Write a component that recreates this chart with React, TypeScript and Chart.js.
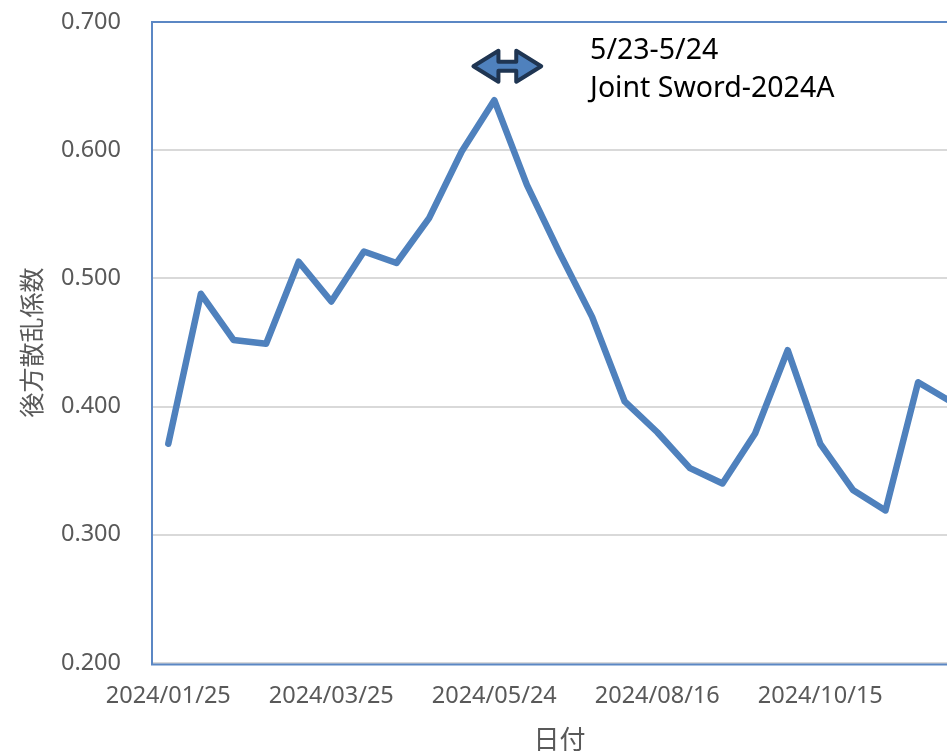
import React, { useEffect, useRef } from "react";
import { Chart, registerables } from "chart.js";

Chart.register(...registerables);

const dates: string[] = [
  "2024/01/25", "2024/02/06", "2024/02/18", "2024/03/01", "2024/03/13",
  "2024/03/25", "2024/04/06", "2024/04/18", "2024/04/30", "2024/05/12",
  "2024/05/24", "2024/06/05", "2024/06/29", "2024/07/11", "2024/07/23",
  "2024/08/16", "2024/08/28", "2024/09/09", "2024/09/21", "2024/10/03",
  "2024/10/15", "2024/10/27", "2024/11/08", "2024/11/20", "2024/12/02",
];

const backscatter: number[] = [
  0.371, 0.488, 0.452, 0.449, 0.513,
  0.482, 0.521, 0.512, 0.547, 0.599,
  0.639, 0.573, 0.520, 0.470, 0.404,
  0.380, 0.352, 0.340, 0.379, 0.444,
  0.371, 0.335, 0.319, 0.419, 0.404,
];

const yTicks: number[] = [0.2, 0.3, 0.4, 0.5, 0.6, 0.7];
const yTitle = "後方散乱係数";
const xTitle = "日付";
const annotationLines: string[] = ["5/23-5/24", "Joint Sword-2024A"];
const eventIndex = 10; // 2024/05/24

const FONT = "'Noto Sans', 'Open Sans', 'Noto Sans CJK JP', sans-serif";
const CJK = "'Noto Sans CJK JP', 'Noto Sans', sans-serif";

const decorPlugin = {
  id: "decor",
  afterDatasetsDraw(chart: any) {
    const { ctx, chartArea } = chart;
    const xs = chart.scales.x;
    const ys = chart.scales.y;
    ctx.save();
    // plot border
    ctx.strokeStyle = "#5B87C4";
    ctx.lineWidth = 2;
    ctx.strokeRect(chartArea.left, chartArea.top, chartArea.right - chartArea.left, chartArea.bottom - chartArea.top + 1.5);

    // double arrow around the event date
    const step = xs.getPixelForValue(1) - xs.getPixelForValue(0);
    const cx0 = xs.getPixelForValue(eventIndex);
    const L = cx0 - 0.64 * step;
    const R = cx0 + 1.44 * step;
    const cy = ys.getPixelForValue(0.6655);
    const hw = 25;
    const hh = 15.5;
    const sh = 4.5;
    ctx.beginPath();
    ctx.moveTo(L, cy);
    ctx.lineTo(L + hw, cy - hh);
    ctx.lineTo(L + hw, cy - sh);
    ctx.lineTo(R - hw, cy - sh);
    ctx.lineTo(R - hw, cy - hh);
    ctx.lineTo(R, cy);
    ctx.lineTo(R - hw, cy + hh);
    ctx.lineTo(R - hw, cy + sh);
    ctx.lineTo(L + hw, cy + sh);
    ctx.lineTo(L + hw, cy + hh);
    ctx.closePath();
    ctx.fillStyle = "#4F81BD";
    ctx.fill();
    ctx.lineJoin = "round";
    ctx.lineWidth = 4;
    ctx.strokeStyle = "#1F3552";
    ctx.stroke();

    // annotation text
    const tx = xs.getPixelForValue(eventIndex + 3) - 2;
    ctx.fillStyle = "#000000";
    ctx.font = `28.5px ${FONT}`;
    ctx.textAlign = "left";
    ctx.textBaseline = "alphabetic";
    ctx.fillText(annotationLines[0], tx, ys.getPixelForValue(0.671));
    ctx.fillText(annotationLines[1], tx, ys.getPixelForValue(0.6415));
    ctx.restore();
  },
};

export default function App() {
  const ref = useRef<HTMLCanvasElement | null>(null);

  useEffect(() => {
    if (!ref.current) return;
    const chart = new Chart(ref.current, {
      type: "line",
      data: {
        labels: dates,
        datasets: [
          {
            data: backscatter,
            borderColor: "#4F81BD",
            backgroundColor: "#4F81BD",
            borderWidth: 6.5,
            pointRadius: 0,
            borderJoinStyle: "round",
            borderCapStyle: "round",
            tension: 0,
          },
        ],
      },
      options: {
        animation: false,
        responsive: true,
        maintainAspectRatio: false,
        layout: { padding: { left: 0, top: 22, right: 33, bottom: 0 } },
        plugins: {
          legend: { display: false },
          tooltip: { enabled: false },
        },
        scales: {
          x: {
            type: "category",
            offset: true,
            grid: { display: false, drawTicks: false },
            border: { display: false },
            ticks: {
              autoSkip: false,
              maxRotation: 0,
              minRotation: 0,
              padding: 19,
              color: "#595959",
              font: { family: FONT, size: 23.5 },
              callback: (_v: any, i: number) => (i % 5 === 0 ? dates[i] : ""),
            },
            title: {
              display: true,
              text: xTitle,
              color: "#595959",
              font: { family: CJK, size: 26 },
              padding: { top: 0, bottom: 15 },
            },
            afterFit: (s: any) => {
              s.height = 107;
            },
          },
          y: {
            min: 0.2,
            max: 0.7,
            afterBuildTicks: (s: any) => {
              s.ticks = yTicks.map((v) => ({ value: v }));
            },
            grid: {
              color: "#D9D9D9",
              lineWidth: 2,
              drawTicks: true,
              tickLength: 28,
              tickColor: "rgba(0,0,0,0)",
            },
            border: { display: false },
            ticks: {
              padding: 3,
              color: "#595959",
              font: { family: FONT, size: 23.5 },
              callback: (v: any) => Number(v).toFixed(3),
            },
            title: {
              display: true,
              text: yTitle,
              color: "#595959",
              font: { family: CJK, size: 25 },
              padding: { top: 16, bottom: 0 },
            },
            afterFit: (s: any) => {
              s.width = 152;
            },
          },
        },
      },
      plugins: [decorPlugin],
    });
    return () => chart.destroy();
  }, []);

  return (
    <div style={{ position: "fixed", left: 0, top: 0, width: 947, height: 752, overflow: "hidden", background: "#ffffff" }}>
      <div style={{ position: "relative", width: 1000, height: 770 }}>
        <canvas ref={ref} />
      </div>
    </div>
  );
}
